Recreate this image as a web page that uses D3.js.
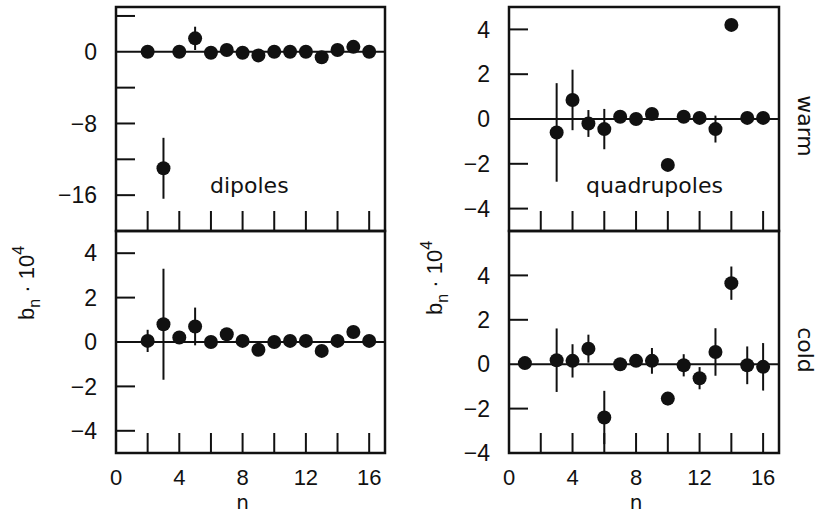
<!DOCTYPE html>
<html>
<head>
<meta charset="utf-8">
<script src="https://cdn.jsdelivr.net/npm/d3@7"></script>
<style>
  body { margin: 0; background: #fff; }
  svg { display: block; }
  text { fill: #111; }
</style>
</head>
<body>
<svg id="chart" width="820" height="514"></svg>
<script>
// multipole harmonics b_n (units 1e-4)
const DIP_WARM_N   = [2, 3, 4, 5, 6, 7, 8, 9, 10, 11, 12, 13, 14, 15, 16];
const DIP_WARM_B   = [0, -13, 0, 1.5, -0.1, 0.2, -0.1, -0.4, 0, 0, 0, -0.6, 0.2, 0.55, 0];
const DIP_WARM_ERR = [0, 3.4, 0, 1.3, 0, 0, 0, 0, 0, 0, 0, 0, 0, 0, 0];

const DIP_COLD_N   = [2, 3, 4, 5, 6, 7, 8, 9, 10, 11, 12, 13, 14, 15, 16];
const DIP_COLD_B   = [0.05, 0.8, 0.2, 0.7, 0, 0.35, 0.05, -0.35, 0, 0.05, 0.05, -0.4, 0.05, 0.45, 0.05];
const DIP_COLD_ERR = [0.5, 2.5, 0, 0.85, 0, 0, 0, 0, 0, 0, 0, 0, 0, 0, 0];

const QUAD_WARM_N   = [3, 4, 5, 6, 7, 8, 9, 10, 11, 12, 13, 14, 15, 16];
const QUAD_WARM_B   = [-0.6, 0.85, -0.2, -0.45, 0.1, 0, 0.22, -2.05, 0.1, 0.05, -0.45, 4.2, 0.05, 0.05];
const QUAD_WARM_ERR = [2.2, 1.35, 0.6, 0.9, 0, 0, 0.2, 0, 0, 0, 0.6, 0, 0, 0];

const QUAD_COLD_N   = [1, 3, 4, 5, 6, 7, 8, 9, 10, 11, 12, 13, 14, 15, 16];
const QUAD_COLD_B   = [0.05, 0.18, 0.15, 0.7, -2.4, 0, 0.15, 0.15, -1.55, -0.05, -0.63, 0.55, 3.65, -0.05, -0.12];
const QUAD_COLD_ERR = [0, 1.43, 0.75, 0.63, 1.2, 0, 0, 0.58, 0.3, 0.5, 0.5, 1.07, 0.75, 0.85, 1.07];

const X_TICKS = [2, 4, 6, 8, 10, 12, 14, 16];
const X_LABELS = [0, 4, 8, 12, 16];

const svg = d3.select('#chart');
const NUM_FONT = '"Liberation Sans", Arial, sans-serif';
const TXT_FONT = '"DejaVu Sans", sans-serif';
const fmt = v => (v < 0 ? '\u2212' + Math.abs(v) : String(v));

const panels = [
  { xr: [116, 385], yr: [231, 7], dom: [-20, 5], n: DIP_WARM_N, b: DIP_WARM_B, e: DIP_WARM_ERR,
    yTicks: [4, -4, -8, -12, -16], yLabels: [0, -8, -16], bottom: false },
  { xr: [116, 385], yr: [453, 231], dom: [-5, 5], n: DIP_COLD_N, b: DIP_COLD_B, e: DIP_COLD_ERR,
    yTicks: [4, 2, -2, -4], yLabels: [4, 2, 0, -2, -4], bottom: true },
  { xr: [509, 779], yr: [231, 7], dom: [-5, 5], n: QUAD_WARM_N, b: QUAD_WARM_B, e: QUAD_WARM_ERR,
    yTicks: [4, 2, -2, -4], yLabels: [4, 2, 0, -2, -4], bottom: false },
  { xr: [509, 779], yr: [453, 231], dom: [-4, 6], n: QUAD_COLD_N, b: QUAD_COLD_B, e: QUAD_COLD_ERR,
    yTicks: [4, 2, -2], yLabels: [4, 2, 0, -2, -4], bottom: true }
];

panels.forEach(p => {
  const x = d3.scaleLinear().domain([0, 17]).range(p.xr);
  const y = d3.scaleLinear().domain(p.dom).range(p.yr);
  const g = svg.append('g');
  const [x0, x1] = p.xr, [y1, y0] = p.yr;

  // zero line
  g.append('line')
    .attr('x1', x0).attr('x2', x1).attr('y1', y(0)).attr('y2', y(0))
    .attr('stroke', '#111').attr('stroke-width', 2);

  // y ticks pointing inward
  g.selectAll('.yt').data(p.yTicks).join('line')
    .attr('x1', x0).attr('x2', x0 + 19)
    .attr('y1', d => y(d)).attr('y2', d => y(d))
    .attr('stroke', '#111').attr('stroke-width', 2);

  g.selectAll('.yl').data(p.yLabels).join('text')
    .attr('x', x0 - 19).attr('y', d => y(d)).attr('dy', '0.36em')
    .attr('text-anchor', 'end')
    .attr('font-family', NUM_FONT).attr('font-size', 23)
    .text(fmt);

  // x ticks up from bottom edge
  g.selectAll('.xt').data(X_TICKS).join('line')
    .attr('x1', d => x(d)).attr('x2', d => x(d))
    .attr('y1', y1).attr('y2', y1 - 20)
    .attr('stroke', '#111').attr('stroke-width', 2);

  if (p.bottom) {
    g.selectAll('.xl').data(X_LABELS).join('text')
      .attr('x', d => x(d)).attr('y', 485)
      .attr('text-anchor', 'middle')
      .attr('font-family', NUM_FONT).attr('font-size', 22)
      .text(d => d);
    g.append('text')
      .attr('x', x(8)).attr('y', 509)
      .attr('text-anchor', 'middle')
      .attr('font-family', TXT_FONT).attr('font-size', 20)
      .text('n');
  }

  const pts = p.n.map((n, i) => ({ n, b: p.b[i], e: p.e[i] }));

  // error bars
  g.selectAll('.err').data(pts.filter(d => d.e > 0)).join('line')
    .attr('x1', d => x(d.n)).attr('x2', d => x(d.n))
    .attr('y1', d => y(d.b + d.e)).attr('y2', d => y(d.b - d.e))
    .attr('stroke', '#111').attr('stroke-width', 2);

  g.selectAll('.pt').data(pts).join('circle')
    .attr('cx', d => x(d.n)).attr('cy', d => y(d.b))
    .attr('r', 7).attr('fill', '#111');

  // frame
  g.append('rect')
    .attr('x', x0).attr('y', y0).attr('width', x1 - x0).attr('height', y1 - y0)
    .attr('fill', 'none').attr('stroke', '#111').attr('stroke-width', 2.5);
});

// panel annotations
svg.append('text').attr('x', 210).attr('y', 193)
  .attr('font-family', TXT_FONT).attr('font-size', 22).text('dipoles');
svg.append('text').attr('x', 586).attr('y', 193)
  .attr('font-family', TXT_FONT).attr('font-size', 22).text('quadrupoles');

[['warm', 126], ['cold', 350]].forEach(([t, cy]) => {
  svg.append('text')
    .attr('transform', `translate(798, ${cy}) rotate(90)`)
    .attr('text-anchor', 'middle')
    .attr('font-family', TXT_FONT).attr('font-size', 22)
    .text(t);
});

// y axis titles
[[34, 283], [442, 278]].forEach(([cx, cy]) => {
  const t = svg.append('text')
    .attr('transform', `translate(${cx}, ${cy}) rotate(-90)`)
    .attr('text-anchor', 'middle')
    .attr('font-family', NUM_FONT).attr('font-size', 22);
  t.append('tspan').text('b');
  t.append('tspan').attr('font-size', 16).attr('dy', 6).text('n');
  t.append('tspan').attr('dy', -6).text(' \u00b7 10');
  t.append('tspan').attr('font-size', 16).attr('dy', -10).text('4');
});
</script>
</body>
</html>
